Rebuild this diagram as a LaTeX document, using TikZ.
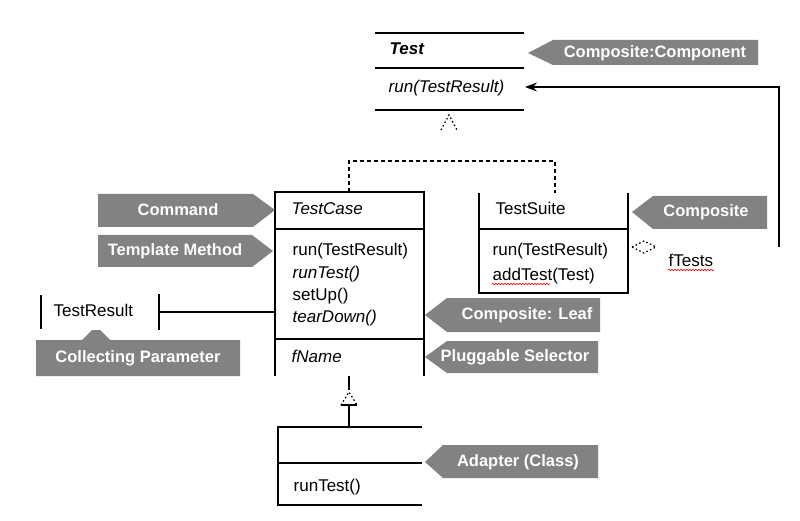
\documentclass[tikz,border=0pt]{standalone}
\usepackage{fontspec}
\setmainfont{Liberation Sans}
\usetikzlibrary{arrows.meta,decorations.pathmorphing}
\usepackage{xcolor}
\definecolor{taggray}{RGB}{128,131,128}

\begin{document}
\begin{tikzpicture}[x=1pt, y=-1pt, line width=1.4pt]
\tikzset{member/.style = {anchor=west, inner sep=0pt, text height=12pt, text depth=4pt, font=\fontsize{17}{19}\selectfont}}
\tikzset{abstract/.style = {member, font=\itshape\fontsize{17}{19}\selectfont}}
\tikzset{tagbox/.style = {fill=taggray}}
\tikzset{tagtext/.style = {text=white, inner sep=0pt, font=\bfseries\fontsize{16.5}{18}\selectfont}}
\tikzset{edge/.style = {> = {Stealth[length=12pt, width=9pt, inset=4pt]}}}
\tikzset{gen/.style = {dash pattern=on 4pt off 3pt, line width=1.2pt}}
\tikzset{dots/.style = {dash pattern=on 1.5pt off 2.5pt, line width=1.3pt}}
\tikzset{spell/.style = {red, line width=0.6pt, decorate, decoration={snake, amplitude=0.8pt, segment length=3pt}}}

\useasboundingbox (0,0) rectangle (800,521);

%Test
\draw (375,33) -- (524,33);
\draw (375,68) -- (524,68);
\draw (375,110) -- (524,110);
\node[member, font=\bfseries\itshape\fontsize{17}{19}\selectfont] (test) at (389,51) {Test};
\node[abstract] (testrun) at (388,89) {run(TestResult)};
\draw[dots] (441,130) -- (449,115) -- (457,130);

%TestCase
\draw (275,376) -- (275,192) -- (424,192) -- (424,376);
\draw (275,229) -- (424,229);
\draw (275,339) -- (424,339);
\node[abstract] (testcase) at (291,211) {TestCase};
\node[member] (tcrun) at (292,252) {run(TestResult)};
\node[abstract] (tcruntest) at (292,275) {runTest()};
\node[member] (tcsetup) at (292,297) {setUp()};
\node[abstract] (tcteardown) at (292,318) {tearDown()};
\node[abstract] (tcname) at (291,358) {fName};

%TestSuite
\draw (479,193) -- (479,293) -- (628,293) -- (628,193);
\draw (479,229) -- (628,229);
\node[member] (testsuite) at (495,211) {TestSuite};
\node[member] (tsrun) at (492,252) {run(TestResult)};
\node[member] (tsadd) at (492,276) {addTest(Test)};
\draw[spell] (492,284) -- (550,284);
\draw[dots] (632,247) -- (644,241) -- (656,247) -- (644,253) -- cycle;
\node[member] (tstests) at (668,262) {fTests};
\draw[spell] (668,270) -- (714,270);

%TestResult
\draw (41,295) -- (41,329);
\draw (159,294) -- (159,330);
\node[member] (testresult) at (53,312) {TestResult};

%adapter class
\draw (422,427) -- (278,427) -- (278,505) -- (422,505);
\draw (278,463) -- (422,463);
\node[member] (adruntest) at (293,487) {runTest()};

%edges
\coordinate (tctop) at (349,192);
\coordinate (tstop) at (555,193);
\coordinate (genjoin) at (449,161);
\coordinate (tcbottom) at (349,376);
\coordinate (adtop) at (349,427);
\coordinate (aggend) at (779,247);
\coordinate (runin) at (525,87);
\coordinate (trright) at (159,312);
\coordinate (tcleft) at (275,312);
\draw[gen] (tctop) |- (genjoin) -| (tstop);
\draw[edge,->] (aggend) |- (runin);
\draw (trright) -- (tcleft);
\draw (tcbottom) -- (349,390);
\draw[dots] (341,405) -- (349,392) -- (357,405);
\draw (341,405) -- (357,405);
\draw (349,405) -- (adtop);

%patterns
\fill[tagbox] (553,40) -- (758,40) -- (758,65) -- (553,65) -- (528,53) -- cycle;
\node[tagtext] (compcomp) at (655,53) {Composite:Component};
\fill[tagbox] (98,194) -- (253,194) -- (275,210) -- (253,227) -- (98,227) -- cycle;
\node[tagtext] (command) at (178,210) {Command};
\fill[tagbox] (98,235) -- (252,235) -- (273,251) -- (252,267) -- (98,267) -- cycle;
\node[tagtext] (template) at (175,251) {Template Method};
\fill[tagbox] (36,340) -- (82,340) -- (92,330) -- (100,330) -- (110,340) -- (240,340) -- (240,376) -- (36,376) -- cycle;
\node[tagtext] (collecting) at (138,358) {Collecting Parameter};
\fill[tagbox] (653,196) -- (767,196) -- (767,229) -- (653,229) -- (632,212) -- cycle;
\node[tagtext] (composite) at (706,212) {Composite};
\fill[tagbox] (447,298) -- (600,298) -- (600,332) -- (447,332) -- (425,315) -- cycle;
\node[tagtext] (leaf) at (527,315) {Composite: Leaf};
\fill[tagbox] (447,341) -- (598,341) -- (598,373) -- (447,373) -- (425,357) -- cycle;
\node[tagtext] (pluggable) at (515,357) {Pluggable Selector};
\fill[tagbox] (443,445) -- (598,445) -- (598,478) -- (443,478) -- (425,462) -- cycle;
\node[tagtext] (adapter) at (518,462) {Adapter (Class)};

\end{tikzpicture}
\end{document}
